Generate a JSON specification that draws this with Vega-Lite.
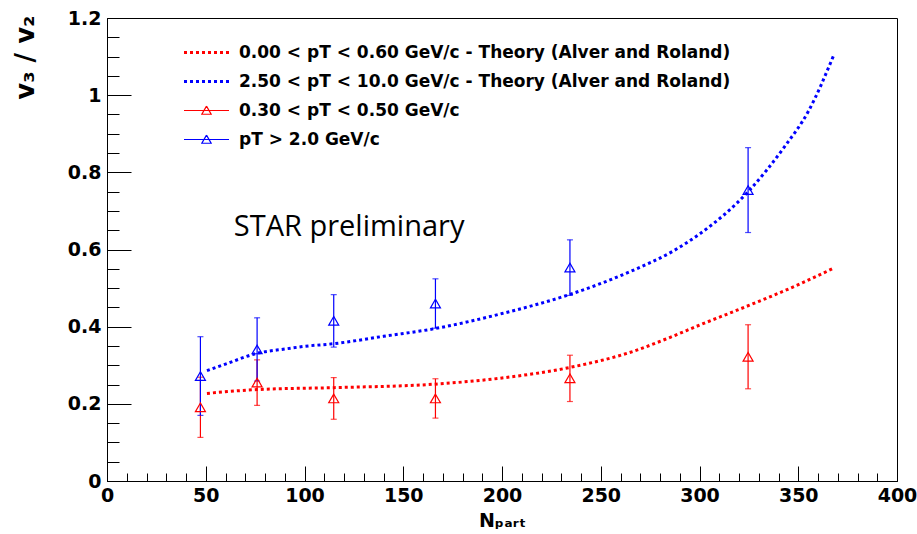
{
  "$schema": "https://vega.github.io/schema/vega-lite/v6.json",
  "width": 790,
  "height": 463,
  "autosize": {"type": "none"},
  "padding": {"left": 107, "top": 18, "right": 20, "bottom": 53},
  "background": "white",
  "datasets": {
    "theory": [
      {"band": "low", "N": 50.6, "v": 0.227},
      {"band": "low", "N": 76, "v": 0.237},
      {"band": "low", "N": 115, "v": 0.242},
      {"band": "low", "N": 166, "v": 0.251},
      {"band": "low", "N": 200, "v": 0.267},
      {"band": "low", "N": 234, "v": 0.294},
      {"band": "low", "N": 267, "v": 0.337},
      {"band": "low", "N": 284, "v": 0.370},
      {"band": "low", "N": 300, "v": 0.404},
      {"band": "low", "N": 325, "v": 0.455},
      {"band": "low", "N": 351, "v": 0.511},
      {"band": "low", "N": 368, "v": 0.552},
      {"band": "high", "N": 50.6, "v": 0.286},
      {"band": "high", "N": 60, "v": 0.303},
      {"band": "high", "N": 76, "v": 0.331},
      {"band": "high", "N": 90, "v": 0.342},
      {"band": "high", "N": 100, "v": 0.349},
      {"band": "high", "N": 115, "v": 0.356},
      {"band": "high", "N": 140, "v": 0.375},
      {"band": "high", "N": 166, "v": 0.395},
      {"band": "high", "N": 200, "v": 0.434},
      {"band": "high", "N": 234, "v": 0.483},
      {"band": "high", "N": 265, "v": 0.543},
      {"band": "high", "N": 287, "v": 0.597},
      {"band": "high", "N": 300, "v": 0.640},
      {"band": "high", "N": 325, "v": 0.752},
      {"band": "high", "N": 343, "v": 0.866},
      {"band": "high", "N": 355, "v": 0.957},
      {"band": "high", "N": 368, "v": 1.104}
    ],
    "measured": [
      {"band": "low", "N": 47.3, "v": 0.191, "err": 0.078},
      {"band": "low", "N": 76, "v": 0.255, "err": 0.059},
      {"band": "low", "N": 114.8, "v": 0.214, "err": 0.054},
      {"band": "low", "N": 166.3, "v": 0.214, "err": 0.051},
      {"band": "low", "N": 234.4, "v": 0.266, "err": 0.060},
      {"band": "low", "N": 324.6, "v": 0.322, "err": 0.083},
      {"band": "high", "N": 47.3, "v": 0.272, "err": 0.102},
      {"band": "high", "N": 76, "v": 0.341, "err": 0.082},
      {"band": "high", "N": 114.8, "v": 0.415, "err": 0.068},
      {"band": "high", "N": 166.3, "v": 0.460, "err": 0.064},
      {"band": "high", "N": 234.4, "v": 0.553, "err": 0.072},
      {"band": "high", "N": 324.6, "v": 0.754, "err": 0.110}
    ],
    "legendItems": [
      {"label": "0.00 < pT < 0.60 GeV/c - Theory (Alver and Roland)"},
      {"label": "2.50 < pT < 10.0 GeV/c - Theory (Alver and Roland)"},
      {"label": "0.30 < pT < 0.50 GeV/c"},
      {"label": "pT > 2.0 GeV/c"}
    ]
  },
  "layer": [
    {
      "data": {"name": "theory"},
      "mark": {"type": "line", "strokeDash": [3, 3], "strokeWidth": 3, "interpolate": "monotone"},
      "encoding": {
        "x": {
          "field": "N", "type": "quantitative",
          "scale": {"domain": [0, 400], "nice": false},
          "title": "Nₚₐᵣₜ",
          "axis": {
            "values": [0,10,20,30,40,50,60,70,80,90,100,110,120,130,140,150,160,170,180,190,200,210,220,230,240,250,260,270,280,290,300,310,320,330,340,350,360,370,380,390,400],
            "tickCount": 200,
            "labelExpr": "datum.value % 50 === 0 ? datum.label : ''",
            "format": "d",
            "tickSize": {"condition": {"test": "datum.value % 50 === 0", "value": -15}, "value": -8},
            "labelPadding": 20,
            "labelFlush": false,
            "labelOverlap": false,
            "grid": false,
            "titleX": 395,
            "titleY": 45,
            "titleAlign": "center",
            "titleBaseline": "alphabetic",
            "titleFontSize": 19
          }
        },
        "y": {
          "field": "v", "type": "quantitative",
          "scale": {"domain": [0, 1.2], "nice": false},
          "title": "v₃ / v₂",
          "axis": {
            "values": [0,0.05,0.1,0.15,0.2,0.25,0.3,0.35,0.4,0.45,0.5,0.55,0.6,0.65,0.7,0.75,0.8,0.85,0.9,0.95,1,1.05,1.1,1.15,1.2],
            "tickCount": 200,
            "labelExpr": "abs(datum.value*5 - round(datum.value*5)) < 1e-6 ? format(datum.value, '.1~f') : ''",
            "tickSize": {"condition": {"test": "abs(datum.value*5 - round(datum.value*5)) < 1e-6", "value": -24}, "value": -12},
            "labelPadding": 30,
            "labelFlush": false,
            "labelOverlap": false,
            "grid": false,
            "titleX": -74,
            "titleY": -3,
            "titleAngle": -90,
            "titleAlign": "right",
            "titleBaseline": "alphabetic",
            "titleFontSize": 26
          }
        },
        "detail": {"field": "band"},
        "color": {"condition": {"test": "datum.band === 'low'", "value": "#ff0000"}, "value": "#0000ff"}
      }
    },
    {
      "data": {"name": "measured"},
      "mark": {"type": "errorbar", "ticks": {"size": 6, "thickness": 1.2}, "rule": {"strokeWidth": 1.2}},
      "encoding": {
        "x": {"field": "N", "type": "quantitative", "title": "Nₚₐᵣₜ"},
        "y": {"field": "v", "type": "quantitative", "title": "v₃ / v₂"},
        "yError": {"field": "err"},
        "color": {"condition": {"test": "datum.band === 'low'", "value": "#ff0000"}, "value": "#0000ff"}
      }
    },
    {
      "data": {"name": "measured"},
      "mark": {"type": "point", "shape": "triangle-up", "filled": false, "size": 100, "strokeWidth": 1.2, "opacity": 1},
      "encoding": {
        "x": {"field": "N", "type": "quantitative", "title": "Nₚₐᵣₜ"},
        "y": {"field": "v", "type": "quantitative", "title": "v₃ / v₂"},
        "color": {"condition": {"test": "datum.band === 'low'", "value": "#ff0000"}, "value": "#0000ff"}
      }
    },
    {
      "data": {"values": [{"note": "STAR preliminary"}]},
      "mark": {"type": "text", "align": "left", "baseline": "alphabetic", "font": "Open Sans", "fontSize": 29, "color": "#000000"},
      "encoding": {
        "x": {"datum": 64.2, "type": "quantitative"},
        "y": {"datum": 0.635, "type": "quantitative"},
        "text": {"field": "note"}
      }
    },
    {
      "data": {"name": "legendItems"},
      "mark": {"type": "point", "filled": false, "opacity": 0},
      "encoding": {
        "stroke": {
          "field": "label", "type": "nominal",
          "scale": {
            "domain": ["0.00 < pT < 0.60 GeV/c - Theory (Alver and Roland)", "2.50 < pT < 10.0 GeV/c - Theory (Alver and Roland)", "0.30 < pT < 0.50 GeV/c", "pT > 2.0 GeV/c"],
            "range": ["#ff0000", "#0000ff", "#ff0000", "#0000ff"]
          },
          "legend": {
            "title": null,
            "orient": "none",
            "legendX": 91,
            "legendY": 26,
            "padding": 0,
            "symbolSize": 225,
            "symbolOpacity": 1,
            "symbolFillColor": "transparent",
            "symbolStrokeWidth": 1.2,
            "labelFont": "DejaVu Sans",
            "labelFontWeight": "bold",
            "labelFontSize": 17,
            "labelColor": "#000000",
            "labelLimit": 0,
            "labelOffset": 24,
            "rowPadding": 11
          }
        },
        "shape": {
          "field": "label", "type": "nominal",
          "scale": {
            "domain": ["0.00 < pT < 0.60 GeV/c - Theory (Alver and Roland)", "2.50 < pT < 10.0 GeV/c - Theory (Alver and Roland)", "0.30 < pT < 0.50 GeV/c", "pT > 2.0 GeV/c"],
            "range": [
              "M-3,-0.13h0.4M-3,0h0.4M-3,0.13h0.4M-2.2,-0.13h0.4M-2.2,0h0.4M-2.2,0.13h0.4M-1.4,-0.13h0.4M-1.4,0h0.4M-1.4,0.13h0.4M-0.6,-0.13h0.4M-0.6,0h0.4M-0.6,0.13h0.4M0.2,-0.13h0.4M0.2,0h0.4M0.2,0.13h0.4M1,-0.13h0.4M1,0h0.4M1,0.13h0.4M1.8,-0.13h0.4M1.8,0h0.4M1.8,0.13h0.4M2.6,-0.13h0.4M2.6,0h0.4M2.6,0.13h0.4",
              "M-3,-0.13h0.4M-3,0h0.4M-3,0.13h0.4M-2.2,-0.13h0.4M-2.2,0h0.4M-2.2,0.13h0.4M-1.4,-0.13h0.4M-1.4,0h0.4M-1.4,0.13h0.4M-0.6,-0.13h0.4M-0.6,0h0.4M-0.6,0.13h0.4M0.2,-0.13h0.4M0.2,0h0.4M0.2,0.13h0.4M1,-0.13h0.4M1,0h0.4M1,0.13h0.4M1.8,-0.13h0.4M1.8,0h0.4M1.8,0.13h0.4M2.6,-0.13h0.4M2.6,0h0.4M2.6,0.13h0.4",
              "M-3,0H3M0,-0.58L0.62,0.5L-0.62,0.5L0,-0.58L-0.62,0.5L0.62,0.5Z",
              "M-3,0H3M0,-0.58L0.62,0.5L-0.62,0.5L0,-0.58L-0.62,0.5L0.62,0.5Z"
            ]
          }
        }
      }
    }
  ],
  "config": {
    "view": {"stroke": "#000000", "strokeWidth": 1},
    "axis": {
      "labelFont": "DejaVu Sans",
      "labelFontWeight": "bold",
      "labelFontSize": 19,
      "labelColor": "#000000",
      "titleFont": "DejaVu Sans",
      "titleFontWeight": "bold",
      "titleColor": "#000000",
      "tickColor": "#000000",
      "tickWidth": 1,
      "domainColor": "#000000",
      "domainWidth": 1
    }
  }
}
